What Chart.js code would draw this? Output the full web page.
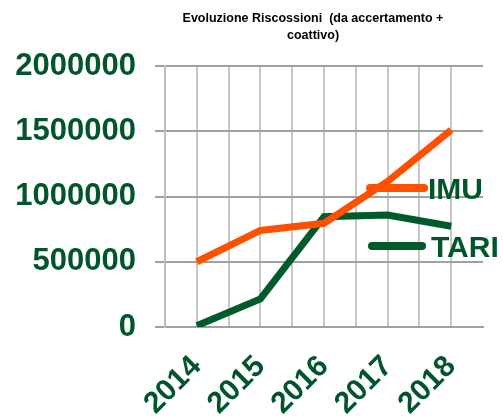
<!DOCTYPE html>
<html>
<head>
<meta charset="utf-8">
<script src="https://cdn.jsdelivr.net/npm/chart.js@4/dist/chart.umd.min.js"></script>
<style>
html,body{margin:0;padding:0;background:#fff;}
#wrap{width:503px;height:418px;position:relative;}
</style>
</head>
<body>
<div id="wrap"><canvas id="c"></canvas></div>
<script>
const titleLines = ['Evoluzione Riscossioni  (da accertamento +', 'coattivo)'];
const years = ['2014', '2015', '2016', '2017', '2018'];
const imuValues = [500000, 740000, 795000, 1115000, 1510000];
const tariValues = [10000, 215000, 845000, 858000, 772000];
const yTicks = [0, 500000, 1000000, 1500000, 2000000];
const seriesNames = ['IMU', 'TARI'];

const ORANGE = '#FF5000';
const GREEN = '#005A2B';
const TEXT_GREEN = '#00552A';
const FONT = "'Liberation Sans', Arial, sans-serif";

const toPoints = vals => vals.map((v, i) => ({x: Number(years[i]), y: v}));

const decorPlugin = {
  id: 'decor',
  afterDraw(chart) {
    const ctx = chart.ctx;
    ctx.save();
    ctx.fillStyle = '#000';
    ctx.font = 'bold 12.5px ' + FONT;
    ctx.textAlign = 'center';
    ctx.textBaseline = 'middle';
    ctx.fillText(titleLines[0], 313, 19);
    ctx.fillText(titleLines[1], 313, 36);
    ctx.restore();
  },
  afterDatasetsDraw(chart) {
    const ctx = chart.ctx;
    const items = [
      {label: seriesNames[0], color: ORANGE, x1: 370, x2: 424, y: 188, tx: 428},
      {label: seriesNames[1], color: GREEN, x1: 372, x2: 422, y: 246, tx: 431}
    ];
    ctx.save();
    items.forEach(it => {
      ctx.strokeStyle = it.color;
      ctx.lineWidth = 8;
      ctx.lineCap = 'round';
      ctx.beginPath();
      ctx.moveTo(it.x1, it.y);
      ctx.lineTo(it.x2, it.y);
      ctx.stroke();
      ctx.fillStyle = TEXT_GREEN;
      ctx.font = 'bold 30px ' + FONT;
      ctx.textBaseline = 'middle';
      ctx.textAlign = 'left';
      ctx.fillText(it.label, it.tx, it.y + 3);
    });
    ctx.restore();
  }
};

new Chart(document.getElementById('c'), {
  type: 'line',
  data: {
    datasets: [
      {label: seriesNames[0], data: toPoints(imuValues), borderColor: ORANGE, backgroundColor: ORANGE,
       borderWidth: 7, pointRadius: 0, tension: 0, borderJoinStyle: 'miter', borderCapStyle: 'butt'},
      {label: seriesNames[1], data: toPoints(tariValues), borderColor: GREEN, backgroundColor: GREEN,
       borderWidth: 7, pointRadius: 0, tension: 0, borderJoinStyle: 'miter', borderCapStyle: 'butt'}
    ]
  },
  options: {
    responsive: true,
    maintainAspectRatio: false,
    animation: false,
    layout: {padding: {top: 66, right: 20, bottom: 0, left: 0}},
    plugins: {
      legend: {display: false},
      tooltip: {enabled: false},
      title: {display: false}
    },
    scales: {
      x: {
        type: 'linear',
        min: Number(years[0]) - 0.5,
        max: Number(years[years.length - 1]) + 0.5,
        afterBuildTicks(scale) {
          const t = [];
          for (let v = scale.min; v <= scale.max + 1e-9; v += 0.5) t.push({value: v});
          scale.ticks = t;
        },
        afterFit(scale) { scale.height = 91; scale.paddingLeft = 0; scale.paddingRight = 0; },
        grid: {
          color: ctx => (ctx.tick && ctx.tick.value >= Number(years[years.length - 1]) + 0.5 - 1e-9) ? 'rgba(0,0,0,0)' : '#C8C8C8',
          lineWidth: 2,
          drawTicks: false
        },
        border: {display: true, color: '#A0A0A0', width: 2},
        ticks: {
          autoSkip: false,
          maxRotation: 45,
          minRotation: 45,
          padding: 22,
          color: TEXT_GREEN,
          font: {family: FONT, size: 30, weight: 'bold'},
          callback: v => {
            const i = years.indexOf(String(v));
            return i >= 0 ? years[i] : '';
          }
        }
      },
      y: {
        min: yTicks[0],
        max: yTicks[yTicks.length - 1],
        afterBuildTicks(scale) { scale.ticks = yTicks.map(v => ({value: v})); },
        afterFit(scale) { scale.width = 165; scale.paddingTop = 0; scale.paddingBottom = 0; },
        grid: {color: '#A0A0A0', lineWidth: 2, tickLength: 10, drawTicks: true},
        border: {display: true, color: '#BDBDBD', width: 2},
        ticks: {
          padding: 19,
          color: TEXT_GREEN,
          font: {family: FONT, size: 31, weight: 'bold'},
          callback: v => String(v)
        }
      }
    }
  },
  plugins: [decorPlugin]
});
</script>
</body>
</html>
